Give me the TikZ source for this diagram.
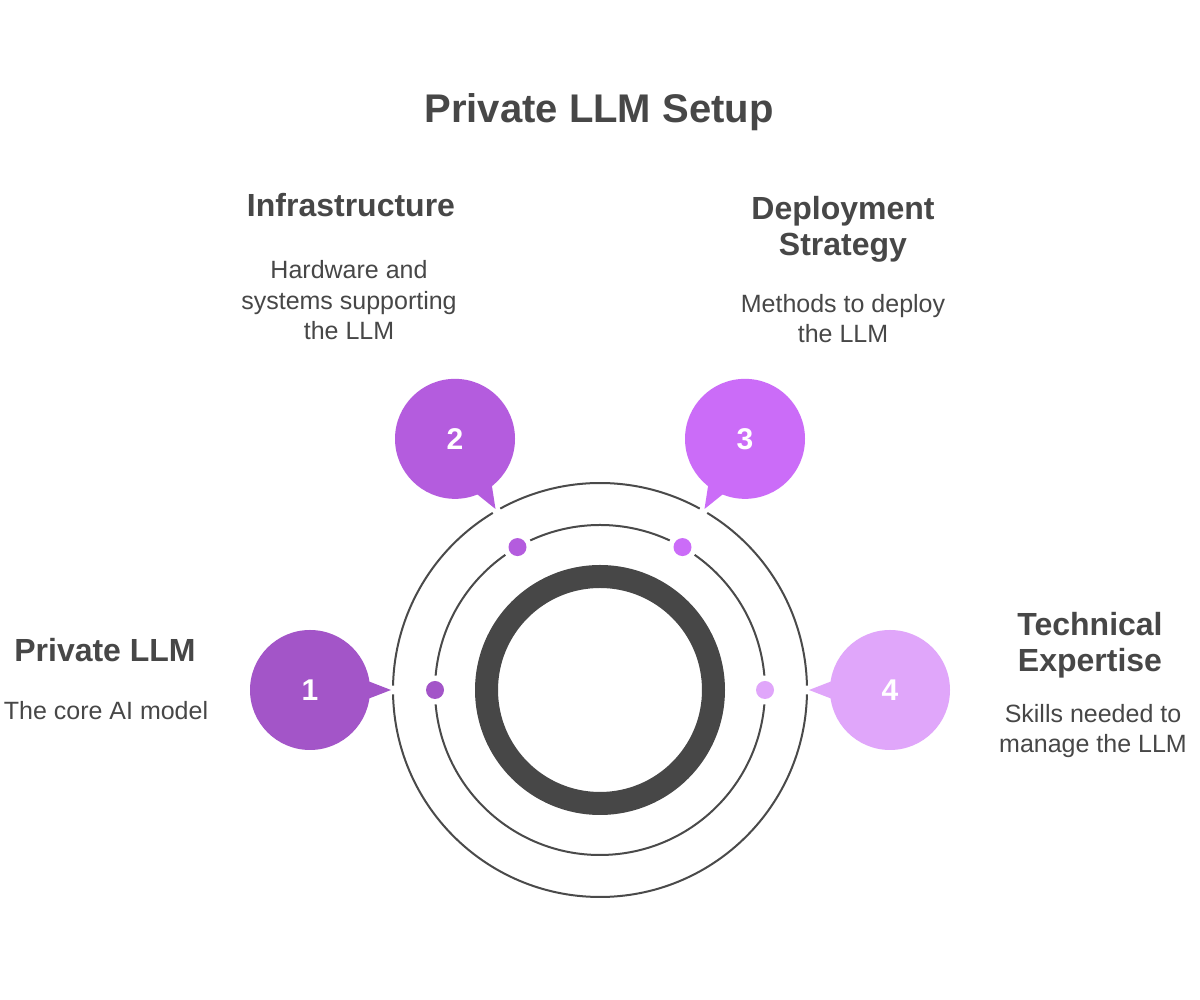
\documentclass[tikz,border=0pt]{standalone}
\usepackage{fontspec}
\setmainfont{Liberation Sans}
\usetikzlibrary{calc}
\definecolor{cone}{HTML}{A355C8}
\definecolor{ctwo}{HTML}{B45CDE}
\definecolor{cthree}{HTML}{CB6CF8}
\definecolor{cfour}{HTML}{E0A6FA}
\definecolor{ringdark}{HTML}{474747}
\definecolor{ringgray}{HTML}{4A4A4A}
\definecolor{txt}{HTML}{474747}
\begin{document}
\begin{tikzpicture}[x=1pt,y=1pt,
  thinring/.style={draw=ringgray, line width=2pt},
  bubble/.style={circle, fill=#1, minimum size=120pt, inner sep=0pt, text=white, font=\bfseries\fontsize{30}{36}\selectfont},
  dotmark/.style={circle, fill=#1, minimum size=18pt, inner sep=0pt},
  tail/.style={fill=#1},
  head/.style={text=txt, font=\bfseries\fontsize{32}{36}\selectfont, align=center, inner sep=0pt, anchor=base},
  desc/.style={text=txt, font=\fontsize{25}{30.5}\selectfont, align=center, inner sep=0pt, anchor=base},
]
\fill[white] (0,0) rectangle (1200,1000);
\useasboundingbox (0,0) rectangle (1200,1000);
\coordinate (C) at (600,310);
% thick central ring
\draw[draw=ringdark, line width=23pt] (C) circle[radius=113.5pt];
% outer circle, broken where the tails touch it
\foreach \a/\b in {1.2/58.8, 61.2/118.8, 121.2/178.8, 181.2/358.8}
  \draw[thinring] ($(C)+(\a:207pt)$) arc[start angle=\a, end angle=\b, radius=207pt];
% middle circle, broken round the dots
\foreach \a/\b in {5/55, 65/115, 125/175, 185/355}
  \draw[thinring] ($(C)+(\a:165pt)$) arc[start angle=\a, end angle=\b, radius=165pt];
% dots
\node[dotmark=cone]   (d1) at ($(C)+(180:165pt)$) {};
\node[dotmark=ctwo]   (d2) at ($(C)+(120:165pt)$) {};
\node[dotmark=cthree] (d3) at ($(C)+(60:165pt)$) {};
\node[dotmark=cfour]  (d4) at ($(C)+(0:165pt)$) {};
% bubbles
\node[bubble=cone]   (b1) at ($(C)+(180:290pt)$) {1};
\node[bubble=ctwo]   (b2) at ($(C)+(120:290pt)$) {2};
\node[bubble=cthree] (b3) at ($(C)+(60:290pt)$) {3};
\node[bubble=cfour]  (b4) at ($(C)+(0:290pt)$) {4};
% tails
\foreach \b/\r/\c in {b1/0/cone, b2/-60/ctwo, b3/-120/cthree, b4/180/cfour}
  \fill[tail=\c, shift={(\b.center)}, rotate=\r] (50pt,-12pt) -- (81pt,0pt) -- (50pt,12pt) -- cycle;
% title
\node[head, font=\bfseries\fontsize{40}{48}\selectfont] (title) at (599,877) {Private LLM Setup};
% labels (base anchor = baseline of the last line)
\node[head] (h2) at (351,783) {Infrastructure};
\node[desc] (t2) at (349,660) {Hardware and\\systems supporting\\the LLM};
\node[head] (h3) at (843,744) {Deployment\\Strategy};
\node[desc] (t3) at (843,657) {Methods to deploy\\the LLM};
\node[head] (h4) at (1090,328) {Technical\\Expertise};
\node[desc] (t4) at (1093,247) {Skills needed to\\manage the LLM};
\node[head] (h1) at (105,338) {Private LLM};
\node[desc] (t1) at (106,280) {The core AI model};
\end{tikzpicture}
\end{document}
